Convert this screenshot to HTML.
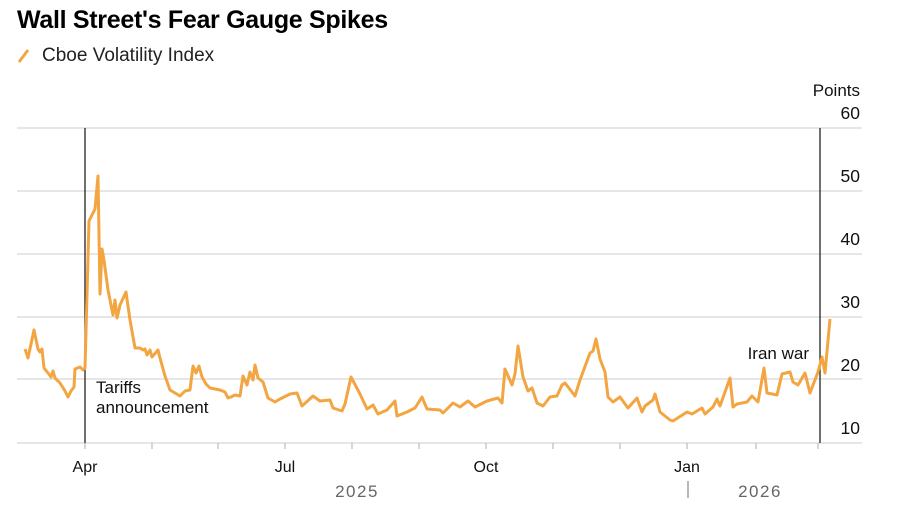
<!DOCTYPE html>
<html><head><meta charset="utf-8"><style>
html,body{margin:0;padding:0;background:#fff;}
svg{display:block;font-family:"Liberation Sans",Arial,sans-serif;}
</style></head><body>
<svg width="900" height="510" viewBox="0 0 900 510" xmlns="http://www.w3.org/2000/svg">
<text x="17" y="28" font-size="25" font-weight="bold" fill="#000" letter-spacing="-0.3">Wall Street's Fear Gauge Spikes</text>
<line x1="19" y1="62" x2="28" y2="50" stroke="#f2a541" stroke-width="3"/>
<text x="42" y="61" font-size="19" fill="#222">Cboe Volatility Index</text>
<text x="860" y="96" font-size="17" fill="#111" text-anchor="end">Points</text>
<g stroke="#d6d6d6" stroke-width="1.3">
<line x1="17" y1="128" x2="862" y2="128"/>
<line x1="17" y1="191" x2="862" y2="191"/>
<line x1="17" y1="254" x2="862" y2="254"/>
<line x1="17" y1="317" x2="862" y2="317"/>
<line x1="17" y1="379" x2="862" y2="379"/>
<line x1="17" y1="443" x2="862" y2="443"/>
</g>
<g font-size="17.5" fill="#111" text-anchor="end">
<text x="860" y="119">60</text>
<text x="860" y="182">50</text>
<text x="860" y="245">40</text>
<text x="860" y="308">30</text>
<text x="860" y="371">20</text>
<text x="860" y="434">10</text>
</g>
<g stroke="#bbb" stroke-width="1.2">
<line x1="85" y1="443" x2="85" y2="449"/><line x1="152" y1="443" x2="152" y2="449"/><line x1="218" y1="443" x2="218" y2="449"/>
<line x1="285" y1="443" x2="285" y2="449"/><line x1="352" y1="443" x2="352" y2="449"/><line x1="419" y1="443" x2="419" y2="449"/>
<line x1="486" y1="443" x2="486" y2="449"/><line x1="553" y1="443" x2="553" y2="449"/><line x1="620" y1="443" x2="620" y2="449"/>
<line x1="687" y1="443" x2="687" y2="449"/><line x1="756" y1="443" x2="756" y2="449"/><line x1="818" y1="443" x2="818" y2="449"/>
</g>
<g font-size="16" fill="#111" text-anchor="middle">
<text x="85" y="472">Apr</text><text x="285" y="472">Jul</text><text x="486" y="472">Oct</text><text x="687" y="472">Jan</text>
</g>
<g font-size="17" fill="#666" text-anchor="middle" letter-spacing="1.5">
<text x="357" y="497">2025</text><text x="760" y="497">2026</text>
</g>
<line x1="688" y1="481" x2="688" y2="498" stroke="#888" stroke-width="1.2"/>
<line x1="85" y1="128" x2="85" y2="443" stroke="#222" stroke-width="1.3"/>
<line x1="820" y1="128" x2="820" y2="443" stroke="#222" stroke-width="1.3"/>
<text x="96" y="393" font-size="17" fill="#111">Tariffs</text>
<text x="96" y="413" font-size="17" fill="#111">announcement</text>
<text x="809" y="359" font-size="17" fill="#111" text-anchor="end">Iran war</text>
<polyline fill="none" stroke="#f2a541" stroke-width="3" stroke-linejoin="round" points="
25,349 28,358 34,330 38,349 40,352 42,349 44,368 48,373 51,377 53,371 55,378 60,383 65,391 68,397 71,391 74,387 75,369 80,367 83,370 85,368
89,221 95,209 98,176 100,294 102,249 104,260 108,290 113,315 115,300 117,318 120,305 126,292 130,320 135,348 140,348 143,350 145,349 147,355 150,350 152,357 158,350 160,358 165,376 170,390 175,393 180,396 185,391 190,390 193,366 196,373 199,366 202,377 206,384 210,388 215,389 220,390 225,392 228,398 231,397 235,395 240,396 243,376 247,385 250,372 253,380 255,365 258,378 263,382 268,398 275,402
280,399 290,394 297,393 302,406 313,396 320,401 330,400 333,408 342,411 345,404 351,377 360,394 367,409 373,405 378,414 387,410 395,401 397,416 407,412 415,408 422,397 427,409 440,410 443,413 453,403 460,407 468,401 475,407 487,401 498,398 502,403 505,369 512,385 515,374 518,346 523,377 528,391 532,388 537,403 543,406 550,397 557,396 562,385 565,383 575,396 580,380 590,353 593,351 596,339 600,359 605,372 608,397 613,402 620,397 628,408 637,398 642,412 645,406 653,400 655,394 660,412 670,420 673,421 687,412 692,414 702,408 705,414 713,407 717,399 720,406 730,378 733,407 737,404 747,402 752,396 758,402 764,368 767,393 777,395 782,374 790,372 793,382 798,385 805,373 810,393 818,372 822,357 825,373 830,319"/>
</svg>
</body></html>
